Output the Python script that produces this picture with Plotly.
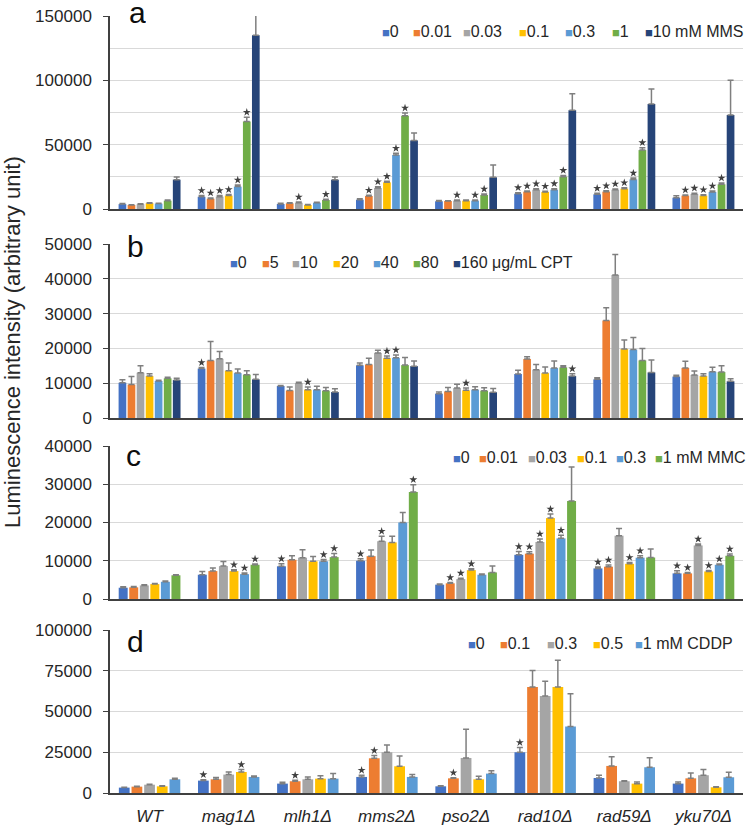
import plotly.graph_objects as go

# ---------------- data ----------------
categories = ["WT", "mag1Δ", "mlh1Δ", "mms2Δ", "pso2Δ", "rad10Δ", "rad59Δ", "yku70Δ"]
colors = ["#4472C4", "#ED7D31", "#A5A5A5", "#FFC000", "#5B9BD5", "#70AD47", "#264478"]

# Panel a: MMS
a_labels = ["0", "0.01", "0.03", "0.1", "0.3", "1", "10 mM MMS"]
a_vals = [
    [3800, 9500, 3900, 7200, 6000, 11900, 11400, 8800],
    [3100, 8000, 4400, 10100, 6200, 13500, 13500, 10400],
    [3700, 9600, 4900, 16300, 6500, 15000, 15000, 11700],
    [4500, 10400, 3100, 20700, 6500, 13200, 15800, 10400],
    [4200, 17400, 4900, 42000, 6500, 15000, 23000, 13200],
    [6500, 68000, 7000, 72500, 10900, 25100, 45800, 19200],
    [22800, 135000, 22800, 53300, 24600, 76700, 81600, 73000],
]
a_errs = [
    [500, 1000, 500, 800, 600, 800, 800, 1500],
    [300, 600, 400, 600, 300, 500, 600, 500],
    [400, 800, 500, 1000, 500, 700, 600, 600],
    [400, 800, 400, 800, 400, 600, 700, 700],
    [300, 1200, 400, 1300, 500, 800, 1000, 800],
    [400, 3300, 500, 2100, 700, 1000, 1900, 1000],
    [2100, 16000, 2100, 5700, 9600, 12900, 11600, 27000],
]
a_stars = [
    [0, 1, 0, 0, 0, 1, 1, 0],
    [0, 1, 0, 1, 0, 1, 1, 1],
    [0, 1, 1, 1, 1, 1, 1, 1],
    [0, 1, 0, 1, 0, 1, 1, 1],
    [0, 1, 0, 1, 1, 1, 1, 1],
    [0, 1, 1, 1, 1, 1, 1, 1],
    [0, 1, 0, 0, 0, 0, 0, 0],
]

# Panel b: CPT
b_labels = ["0", "5", "10", "20", "40", "80", "160 μg/mL CPT"]
b_vals = [
    [10150, 14200, 9200, 15140, 7000, 12650, 11100, 11900],
    [9600, 16500, 7900, 15400, 7650, 16950, 28000, 14400],
    [13000, 17000, 10050, 18700, 8600, 13900, 41100, 12350],
    [12050, 13600, 8150, 17200, 7950, 12900, 19800, 12050],
    [10650, 12900, 8150, 17300, 8150, 14350, 19650, 13300],
    [11400, 12450, 7850, 15200, 7850, 14550, 16550, 13200],
    [10900, 11100, 7450, 14900, 7400, 12050, 13100, 10550],
]
b_errs = [
    [850, 300, 150, 650, 500, 1050, 500, 400],
    [2300, 5500, 1000, 1800, 1150, 650, 3700, 1900],
    [2000, 2100, 200, 750, 1100, 1500, 5900, 1150],
    [650, 2200, 750, 600, 650, 1750, 2600, 650],
    [200, 1200, 950, 800, 850, 2050, 3450, 1250],
    [300, 1150, 950, 2200, 850, 450, 3450, 1850],
    [500, 1400, 950, 1500, 1100, 650, 3550, 750],
]
b_stars = [
    [0, 1, 0, 0, 0, 0, 0, 0],
    [0, 0, 0, 0, 0, 0, 0, 0],
    [0, 0, 0, 0, 0, 0, 0, 0],
    [0, 0, 1, 1, 1, 0, 0, 0],
    [0, 0, 0, 1, 0, 0, 0, 0],
    [0, 0, 0, 0, 0, 0, 0, 0],
    [0, 0, 0, 0, 0, 1, 0, 0],
]

# Panel c: MMC
c_labels = ["0", "0.01", "0.03", "0.1", "0.3", "1 mM MMC"]
c_vals = [
    [2950, 6350, 8550, 10000, 3750, 11550, 8000, 6700],
    [3050, 7300, 10250, 11200, 4100, 11850, 8450, 6700],
    [3550, 8600, 10800, 15100, 5200, 14900, 16550, 14000],
    [3900, 7300, 9850, 14800, 7550, 21150, 9200, 7200],
    [4500, 6500, 9850, 20000, 6350, 15850, 10800, 8950],
    [6200, 8950, 10950, 28000, 6950, 25600, 10850, 11300],
]
c_errs = [
    [250, 850, 650, 500, 150, 850, 350, 700],
    [200, 800, 1050, 1600, 200, 500, 450, 200],
    [200, 1200, 2100, 1300, 250, 800, 1900, 350],
    [150, 350, 1250, 1600, 350, 1050, 350, 250],
    [200, 300, 450, 2600, 200, 800, 500, 200],
    [150, 200, 950, 1900, 1650, 8900, 2200, 450],
]
c_stars = [
    [0, 0, 1, 1, 0, 1, 1, 1],
    [0, 0, 0, 0, 1, 1, 1, 1],
    [0, 0, 0, 1, 1, 1, 0, 1],
    [0, 1, 0, 0, 1, 1, 1, 1],
    [0, 1, 1, 0, 0, 1, 1, 1],
    [0, 1, 1, 1, 0, 0, 0, 1],
]

# Panel d: CDDP
d_labels = ["0", "0.1", "0.3", "0.5", "1 mM CDDP"]
d_vals = [
    [3300, 7600, 5750, 9850, 4100, 25000, 9200, 5750],
    [3900, 8400, 7200, 21300, 9000, 65000, 16600, 9000],
    [5100, 11300, 8400, 25000, 21500, 59500, 7200, 10900],
    [4100, 12900, 8800, 16400, 8400, 65000, 5750, 3500],
    [8400, 9850, 8800, 9850, 11900, 40800, 15800, 9650],
]
d_errs = [
    [300, 600, 800, 1050, 300, 2900, 1700, 1000],
    [300, 1050, 600, 1700, 400, 10200, 5700, 3300],
    [300, 1600, 1450, 4500, 17600, 9000, 300, 3450],
    [300, 1450, 1850, 6350, 1850, 16400, 1000, 400],
    [600, 600, 3100, 1450, 1800, 20100, 5900, 3050],
]
d_stars = [
    [0, 1, 0, 1, 0, 1, 0, 0],
    [0, 0, 1, 1, 1, 0, 0, 0],
    [0, 0, 0, 0, 0, 0, 0, 0],
    [0, 1, 0, 0, 0, 0, 0, 0],
    [0, 0, 0, 0, 0, 0, 0, 0],
]

panel_letters = ["a", "b", "c", "d"]
y_title = "Luminescence intensity (arbitrary unit)"

# ---------------- layout helpers ----------------
W, H = 749, 825
ML, MR, MT, MB = 110, 6, 16, 32
PW, PH = W - ML - MR, H - MT - MB
FONT = "Liberation Sans, Arial, sans-serif"
BARGAP, BARGROUPGAP = 0.2, 0.15


def px_x(x):
    return (x - ML) / PW


def px_y(y):
    return (H - MB - y) / PH


# pixel top/bottom of each panel
panel_px = [(16, 209), (244, 418), (446, 599), (630, 793)]
panel_range = [150000, 50000, 40000, 100000]
panel_dtick = [50000, 10000, 10000, 25000]
panel_minor = [25000, None, None, None]

legend_y = [32, 262, 457, 643]
legend_x = [
    [382, 413, 463, 519, 565, 612, 645],
    [230, 262, 292, 333, 373, 413, 453],
    [453, 479, 528, 577, 616, 655],
    [468, 500, 547, 593, 635],
]
letter_pos = [(128, 12), (126, 246), (125, 455), (126, 641)]
grid_cover_right = [158, 157, 155, 157]

panels = [
    (a_labels, a_vals, a_errs, a_stars),
    (b_labels, b_vals, b_errs, b_stars),
    (c_labels, c_vals, c_errs, c_stars),
    (d_labels, d_vals, d_errs, d_stars),
]

fig = go.Figure()
xs = list(range(len(categories)))
annotations = []

for k, (labels, vals, errs, stars) in enumerate(panels):
    xa = "x" if k == 0 else f"x{k + 1}"
    ya = "y" if k == 0 else f"y{k + 1}"
    n = len(labels)
    top_px, bot_px = panel_px[k]
    units_per_px = panel_range[k] / (bot_px - top_px)
    gw = 1 - BARGAP
    for i in range(n):
        fig.add_trace(go.Bar(
            x=xs, y=vals[i], name=labels[i],
            marker=dict(color=colors[i], line=dict(width=0)),
            error_y=dict(type="data", array=errs[i], arrayminus=[0] * len(xs),
                         symmetric=False, color="#7f7f7f", thickness=1.5, width=3),
            xaxis=xa, yaxis=ya, showlegend=False, cliponaxis=False,
        ))
        off = -gw / 2 + gw / n * (i + 0.5)
        sx = [j + off for j in xs if stars[i][j]]
        sy = [vals[i][j] + errs[i][j] + 5 * units_per_px for j in xs if stars[i][j]]
        if sx:
            fig.add_trace(go.Scatter(
                x=sx, y=sy, mode="markers",
                marker=dict(symbol="star", size=6, color="#404040", line=dict(width=0)),
                xaxis=xa, yaxis=ya, showlegend=False, cliponaxis=False, hoverinfo="skip",
            ))

    # legend (as text items)
    for i, lab in enumerate(labels):
        annotations.append(dict(
            xref="paper", yref="paper", x=px_x(legend_x[k][i] - 1), y=px_y(legend_y[k]),
            xanchor="left", yanchor="middle", showarrow=False,
            text=f"<span style='color:{colors[i]};font-size:13px'>■</span>{lab}",
            font=dict(family=FONT, size=16, color="#262626"),
            borderpad=0,
        ))
    # white cover for top grid line behind panel letter
    annotations.append(dict(
        xref="paper", yref="paper", x=px_x(111), y=px_y(top_px),
        xanchor="left", yanchor="middle", showarrow=False, text=" ",
        width=grid_cover_right[k] - 111, height=5, bgcolor="white", borderpad=0,
        font=dict(size=4),
    ))
    lx, ly = letter_pos[k]
    annotations.append(dict(
        xref="paper", yref="paper", x=px_x(lx), y=px_y(ly),
        xanchor="left", yanchor="middle", showarrow=False, text=panel_letters[k],
        font=dict(family=FONT, size=30, color="#0d0d0d"),
        height=24, borderpad=0, valign="middle",
    ))

    xaxis = dict(
        domain=[0, 1], range=[-0.5, len(categories) - 0.5], anchor=ya,
        showline=True, linecolor="#404040", linewidth=2, showgrid=False,
        zeroline=False, ticks="", tickvals=xs,
        ticktext=[f"<i>{c}</i>" for c in categories],
        showticklabels=(k == 3), tickfont=dict(family=FONT, size=17, color="#262626"),
        ticklabelstandoff=7,
    )
    yaxis = dict(
        domain=[px_y(bot_px), px_y(top_px)], range=[0, panel_range[k]], anchor=xa,
        showline=True, linecolor="#404040", linewidth=1.5, ticks="outside", ticklen=5,
        tickcolor="#404040", tickwidth=1.2, dtick=panel_dtick[k], tick0=0, tickformat="d",
        showgrid=True, gridcolor="#d9d9d9", gridwidth=1, zeroline=False,
        tickfont=dict(family=FONT, size=17, color="#262626"), ticklabelstandoff=8,
    )
    if panel_minor[k]:
        yaxis["minor"] = dict(dtick=panel_minor[k], showgrid=True, gridcolor="#d9d9d9",
                              gridwidth=1, ticks="")
    suffix = "" if k == 0 else str(k + 1)
    fig.update_layout({f"xaxis{suffix}": xaxis, f"yaxis{suffix}": yaxis})

annotations.append(dict(
    xref="paper", yref="paper", x=px_x(12), y=px_y(342), xanchor="center", yanchor="middle",
    showarrow=False, text=y_title, textangle=-90,
    font=dict(family=FONT, size=22, color="#262626"),
))

fig.update_layout(
    width=W, height=H, template="none",
    margin=dict(l=ML, r=MR, t=MT, b=MB, autoexpand=False),
    paper_bgcolor="white", plot_bgcolor="white",
    barmode="group", bargap=BARGAP, bargroupgap=BARGROUPGAP,
    showlegend=False, annotations=annotations,
    font=dict(family=FONT, color="#262626"),
)

fig.write_html("out.html")
